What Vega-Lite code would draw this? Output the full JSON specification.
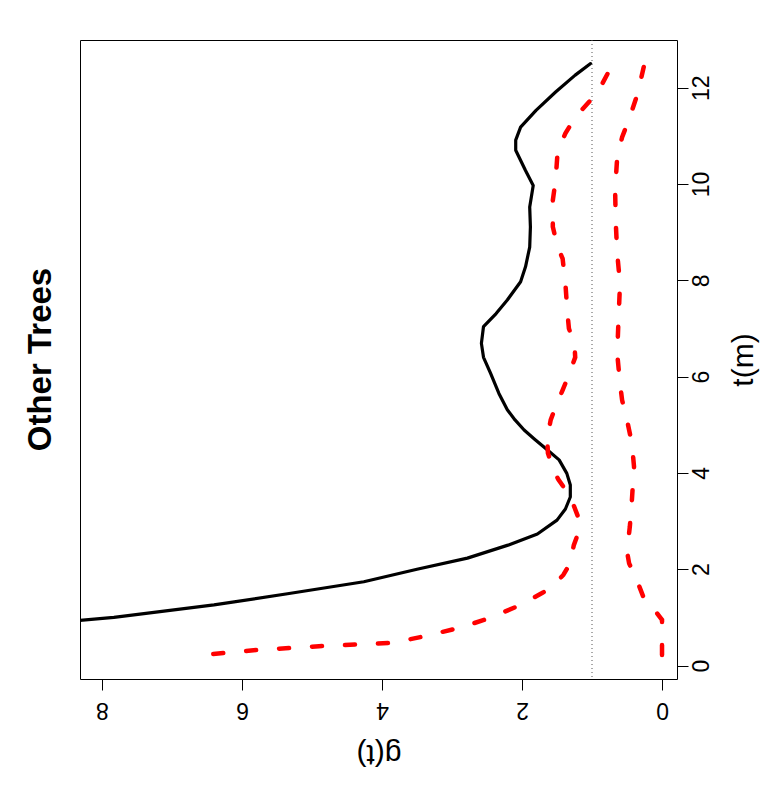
{
  "$schema": "https://vega.github.io/schema/vega-lite/v6.json",
  "width": 597,
  "height": 639,
  "autosize": {"type": "none"},
  "padding": {"left": 80, "top": 40, "right": 100, "bottom": 121},
  "background": "white",
  "title": {"text": "Other Trees", "orient": "left", "anchor": "middle", "fontSize": 33, "font": "Liberation Sans", "fontWeight": "bold", "color": "black", "offset": 22},
  "config": {
    "view": {"stroke": "black", "strokeWidth": 1},
    "axis": {"domain": false, "grid": false, "tickColor": "black", "tickSize": 11, "tickWidth": 1, "labelColor": "black", "titleColor": "black", "labelFont": "Liberation Sans", "titleFont": "Liberation Sans", "labelFontSize": 23, "titleFontSize": 30, "titleFontWeight": "normal"}
  },
  "datasets": {
    "obs": [
      {"t": 0.75, "g": 9.8}, {"t": 1.0, "g": 7.83}, {"t": 1.26, "g": 6.4}, {"t": 1.49, "g": 5.35},
      {"t": 1.74, "g": 4.26}, {"t": 2.0, "g": 3.5}, {"t": 2.23, "g": 2.78}, {"t": 2.5, "g": 2.2},
      {"t": 2.73, "g": 1.78}, {"t": 3.02, "g": 1.5}, {"t": 3.25, "g": 1.38}, {"t": 3.5, "g": 1.31},
      {"t": 3.75, "g": 1.31}, {"t": 3.99, "g": 1.36}, {"t": 4.27, "g": 1.47}, {"t": 4.48, "g": 1.64},
      {"t": 4.7, "g": 1.82}, {"t": 4.89, "g": 1.97}, {"t": 5.1, "g": 2.1}, {"t": 5.31, "g": 2.21},
      {"t": 5.65, "g": 2.33}, {"t": 6.07, "g": 2.45}, {"t": 6.4, "g": 2.55}, {"t": 6.69, "g": 2.58},
      {"t": 7.04, "g": 2.55}, {"t": 7.31, "g": 2.37}, {"t": 7.59, "g": 2.21}, {"t": 7.97, "g": 2.02},
      {"t": 8.28, "g": 1.95}, {"t": 8.69, "g": 1.89}, {"t": 9.11, "g": 1.88}, {"t": 9.52, "g": 1.89},
      {"t": 9.97, "g": 1.84}, {"t": 10.28, "g": 1.95}, {"t": 10.7, "g": 2.09}, {"t": 10.91, "g": 2.09},
      {"t": 11.18, "g": 2.02}, {"t": 11.53, "g": 1.8}, {"t": 11.91, "g": 1.52}, {"t": 12.26, "g": 1.24},
      {"t": 12.5, "g": 1.02}
    ],
    "hi": [
      {"t": 0.24, "g": 6.41}, {"t": 0.32, "g": 5.8}, {"t": 0.4, "g": 4.9}, {"t": 0.47, "g": 3.85},
      {"t": 0.59, "g": 3.45}, {"t": 0.78, "g": 2.9}, {"t": 0.99, "g": 2.45}, {"t": 1.26, "g": 2.02},
      {"t": 1.5, "g": 1.72}, {"t": 1.61, "g": 1.59}, {"t": 1.88, "g": 1.41}, {"t": 2.13, "g": 1.31},
      {"t": 2.5, "g": 1.26}, {"t": 2.78, "g": 1.19}, {"t": 3.09, "g": 1.2}, {"t": 3.51, "g": 1.31},
      {"t": 3.86, "g": 1.48}, {"t": 4.03, "g": 1.54}, {"t": 4.41, "g": 1.63}, {"t": 4.73, "g": 1.64},
      {"t": 5.1, "g": 1.59}, {"t": 5.37, "g": 1.52}, {"t": 5.72, "g": 1.42}, {"t": 6.0, "g": 1.34},
      {"t": 6.4, "g": 1.24}, {"t": 6.65, "g": 1.25}, {"t": 7.0, "g": 1.33}, {"t": 7.3, "g": 1.35},
      {"t": 7.93, "g": 1.38}, {"t": 8.45, "g": 1.42}, {"t": 8.69, "g": 1.49}, {"t": 9.11, "g": 1.56},
      {"t": 9.66, "g": 1.56}, {"t": 10.08, "g": 1.52}, {"t": 10.7, "g": 1.49}, {"t": 11.05, "g": 1.38},
      {"t": 11.39, "g": 1.24}, {"t": 11.74, "g": 1.02}, {"t": 12.01, "g": 0.88}, {"t": 12.5, "g": 0.7}
    ],
    "lo": [
      {"t": 0.22, "g": 0.0}, {"t": 0.53, "g": 0.0}, {"t": 0.95, "g": 0.0}, {"t": 1.16, "g": 0.11},
      {"t": 1.36, "g": 0.25}, {"t": 1.74, "g": 0.35}, {"t": 2.12, "g": 0.47}, {"t": 2.37, "g": 0.5},
      {"t": 2.88, "g": 0.46}, {"t": 3.44, "g": 0.43}, {"t": 4.13, "g": 0.4}, {"t": 4.61, "g": 0.43},
      {"t": 5.1, "g": 0.5}, {"t": 5.51, "g": 0.57}, {"t": 5.86, "g": 0.6}, {"t": 6.48, "g": 0.64},
      {"t": 7.24, "g": 0.62}, {"t": 7.93, "g": 0.6}, {"t": 8.56, "g": 0.64}, {"t": 9.18, "g": 0.66},
      {"t": 9.87, "g": 0.67}, {"t": 10.56, "g": 0.64}, {"t": 10.97, "g": 0.57}, {"t": 11.39, "g": 0.46},
      {"t": 11.87, "g": 0.35}, {"t": 12.5, "g": 0.25}
    ],
    "ref": [{"g": 1}]
  },
  "layer": [
    {
      "data": {"name": "obs"},
      "mark": {"type": "line", "color": "black", "strokeWidth": 3.2, "clip": true, "strokeJoin": "round", "strokeCap": "round"},
      "encoding": {
        "x": {"field": "g", "type": "quantitative",
          "scale": {"domain": [-0.214, 8.314], "reverse": true, "nice": false, "zero": false},
          "axis": {"orient": "bottom", "values": [0, 2, 4, 6, 8], "format": "d", "title": "g(t)", "labelAngle": 180, "labelAlign": "center", "labelBaseline": "bottom", "labelPadding": 7.5, "titleAngle": 180, "titleBaseline": "bottom", "titlePadding": 18}},
        "y": {"field": "t", "type": "quantitative",
          "scale": {"domain": [-0.28, 12.99], "nice": false, "zero": false},
          "axis": {"orient": "right", "values": [0, 2, 4, 6, 8, 10, 12], "format": "d", "title": "t(m)", "labelAngle": 270, "labelAlign": "center", "labelBaseline": "top", "labelPadding": 2, "titleAngle": 270, "titleBaseline": "top", "titlePadding": 15}},
        "order": {"field": "t", "type": "quantitative"}
      }
    },
    {
      "data": {"name": "hi"},
      "mark": {"type": "line", "color": "#ff0000", "strokeWidth": 4.5, "strokeDash": [10, 23], "strokeCap": "round", "clip": true},
      "encoding": {
        "x": {"field": "g", "type": "quantitative"},
        "y": {"field": "t", "type": "quantitative"},
        "order": {"field": "t", "type": "quantitative"}
      }
    },
    {
      "data": {"name": "lo"},
      "mark": {"type": "line", "color": "#ff0000", "strokeWidth": 4.5, "strokeDash": [10, 23], "strokeCap": "round", "clip": true},
      "encoding": {
        "x": {"field": "g", "type": "quantitative"},
        "y": {"field": "t", "type": "quantitative"},
        "order": {"field": "t", "type": "quantitative"}
      }
    },
    {
      "data": {"name": "ref"},
      "mark": {"type": "rule", "color": "#555555", "strokeWidth": 1, "strokeDash": [1, 3]},
      "encoding": {
        "x": {"field": "g", "type": "quantitative"}
      }
    }
  ]
}
